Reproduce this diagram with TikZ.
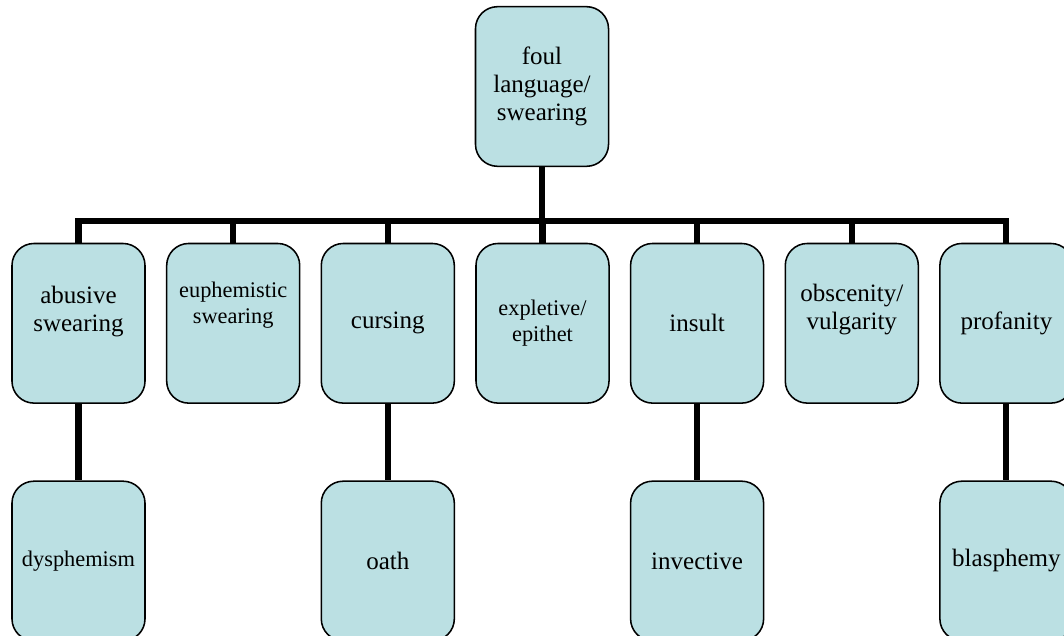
\documentclass[tikz,border=0pt]{standalone}
\usepackage{fontspec}
\setmainfont{Liberation Serif}
\definecolor{boxfill}{RGB}{187,224,227}
\newcommand{\pushup}[1]{\rule[-#1]{0pt}{0pt}}

\begin{document}
\begin{tikzpicture}[x=0.025cm,y=-0.025cm,
  card/.style={draw,line width=1.1pt,fill=boxfill,rounded corners=0.55cm,
    minimum width=3.325cm,minimum height=3.99cm,inner sep=2pt,align=center,
    font={\fontsize{17.8}{19.9}\selectfont}},
  small/.style={font={\fontsize{15.9}{18.9}\selectfont}},
  link/.style={line width=4.3pt}]
\useasboundingbox (0,0) rectangle (1064,636);
\clip (0,0) rectangle (1064,636);

% top
\node[card] (root) at (542,86.5) {foul\\language/\\swearing};

% first row
\node[card] (abusive) at (78.5,323.3) {abusive\\swearing\pushup{0.735cm}};
\node[card,small] (euphem) at (233.2,323.3) {euphemistic\\swearing\pushup{1.02cm}};
\node[card] (cursing) at (387.8,323.3) {cursing};
\node[card,small] (expletive) at (542.5,323.3) {expletive/\\epithet};
\node[card] (insult) at (697.1,323.3) {insult};
\node[card] (obscenity) at (851.8,323.3) {obscenity/\\vulgarity\pushup{0.835cm}};
\node[card] (profanity) at (1006.4,323.3) {profanity};

% second row
\node[card,small] (dysphemism) at (78.5,561) {dysphemism};
\node[card] (oath) at (387.8,561) {oath};
\node[card] (invective) at (697.1,561) {invective};
\node[card] (blasphemy) at (1006.4,561) {blasphemy};

% connectors
\coordinate (bus) at (542,221);
\draw[link] (root.south) -- (root |- bus);
\draw[link] (abusive.north) |- (bus) -| (profanity.north);
\foreach \n in {euphem,cursing,expletive,insult,obscenity}
  \draw[link] (\n.north) -- (\n |- bus);
\foreach \a/\b in {abusive/dysphemism,cursing/oath,insult/invective,profanity/blasphemy}
  \draw[link] (\a.south) -- (\b.north);
\end{tikzpicture}
\end{document}
